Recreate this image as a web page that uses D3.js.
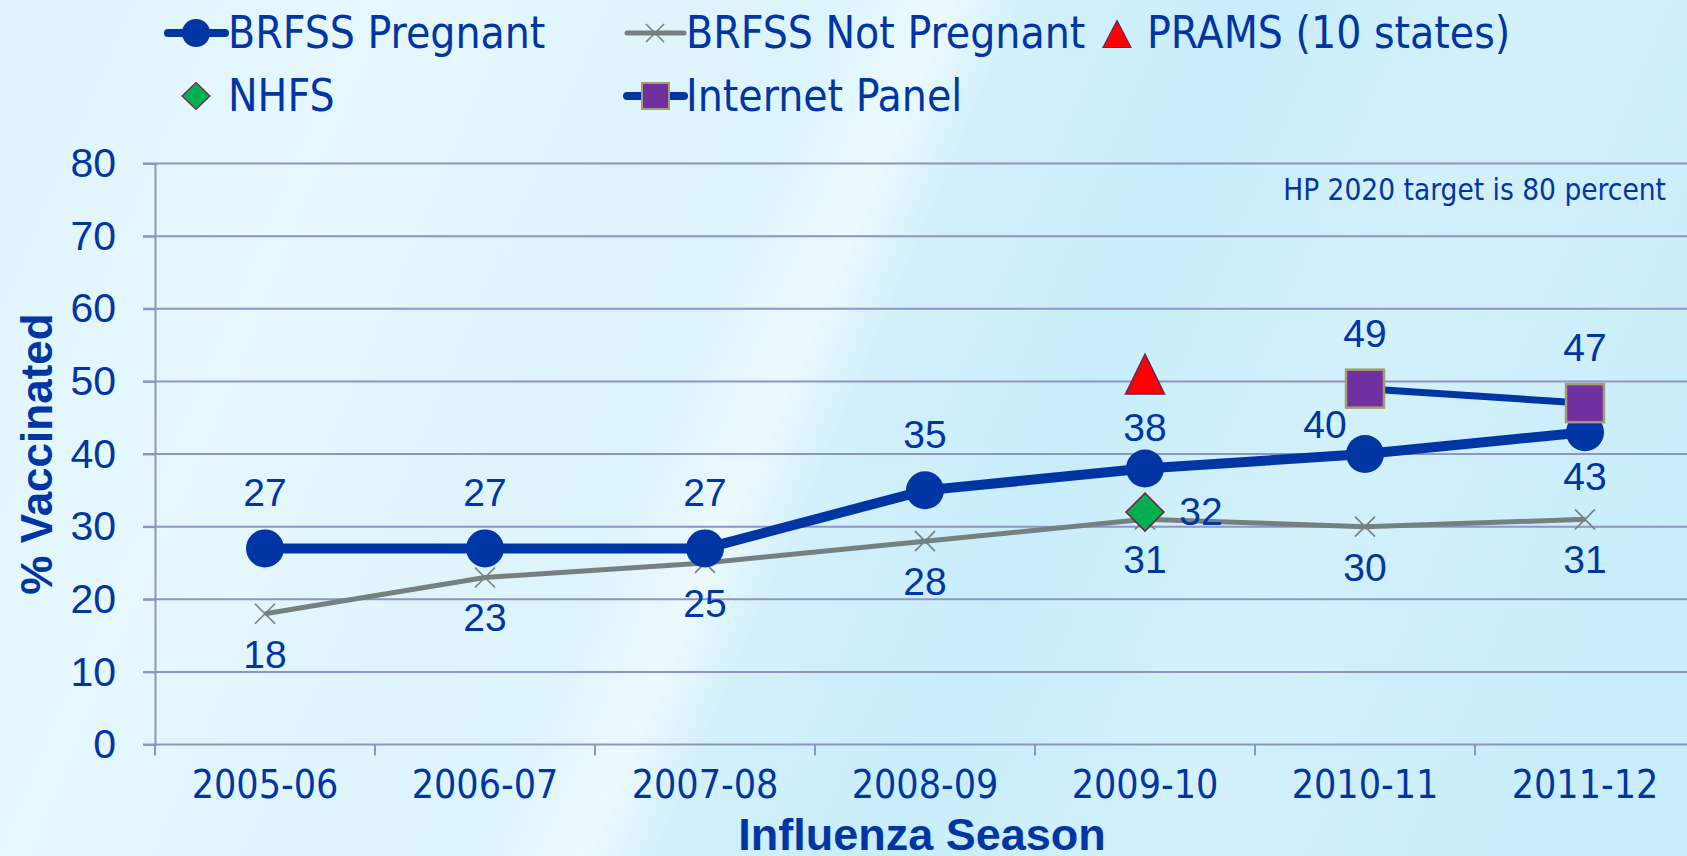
<!DOCTYPE html>
<meta charset="utf-8">
<style>
  body { margin: 0; background: #dff4fb; }
  .narrow { font-family: "Liberation Sans Narrow", "DejaVu Sans Condensed", "Liberation Sans", sans-serif; }
  .arial { font-family: "Liberation Sans", Arial, sans-serif; }
</style>
<body>
<svg width="1687" height="856"></svg>
<script src="https://d3js.org/d3.v7.min.js"></script>
<script>

// data
const seasons = ["2005-06", "2006-07", "2007-08", "2008-09", "2009-10", "2010-11", "2011-12"];
const brfssPregnant = [27, 27, 27, 35, 38, 40, 43];
const brfssNotPregnant = [18, 23, 25, 28, 31, 30, 31];
const pramsSeasons = ["2009-10"];
const pramsValues = [51];
const nhfsSeasons = ["2009-10"];
const nhfsValues = [32];
const panelSeasons = ["2010-11", "2011-12"];
const panelValues = [49, 47];
const yTicks = [0, 10, 20, 30, 40, 50, 60, 70, 80];

// where each pregnant label sits (excel had some moved by hand)
const pregnantLabelSpots = ["top", "top", "top", "top", "topNear", "left", "bottomFar"];

const blue = "#0036a3";
const gray = "#76807f";
const gridColor = "#8e94c6";

const svg = d3.select("svg"),
  width = +svg.attr("width"),
  height = +svg.attr("height");

// background: pale cyan with diagonal light streaks
const defs = svg.append("defs");
const bg = defs.append("linearGradient")
  .attr("id", "bg")
  .attr("gradientUnits", "userSpaceOnUse")
  .attr("x1", 0).attr("y1", 0).attr("x2", 1600).attr("y2", 684);
[[0, "#def4fb"], [0.2, "#e6f8fd"], [0.3, "#e1f6fc"], [0.44, "#dcf4fb"], [0.5, "#ecfafe"],
 [0.54, "#d4f1fb"], [0.66, "#c8edfa"], [0.8, "#d3f1fb"], [1, "#c9edfa"]].forEach(s => {
  bg.append("stop").attr("offset", s[0]).attr("stop-color", s[1]);
});
svg.append("rect").attr("width", width).attr("height", height).attr("fill", "url(#bg)");

// scales
const x = d3.scaleBand().domain(seasons).range([155, 1695]);
const cx = s => x(s) + x.bandwidth() / 2;
const y = d3.scaleLinear().domain([0, 80]).range([744.5, 163.5]);

// gridlines
svg.append("g")
  .selectAll("line")
  .data(yTicks)
  .join("line")
  .attr("x1", 143).attr("x2", 1695)
  .attr("y1", d => y(d)).attr("y2", d => y(d))
  .attr("stroke", gridColor)
  .attr("stroke-width", 2);

// y axis
const yAxis = svg.append("g")
  .attr("transform", "translate(155,0)")
  .call(d3.axisLeft(y).tickValues(yTicks).tickSize(12).tickPadding(27));
yAxis.select(".domain").attr("stroke", gridColor).attr("stroke-width", 2);
yAxis.selectAll(".tick line").attr("stroke", gridColor).attr("stroke-width", 2);
yAxis.selectAll(".tick text")
  .attr("class", "arial")
  .attr("fill", blue)
  .style("font-size", "41px");

// x axis: labels at centres, ticks at band edges
const xAxis = svg.append("g")
  .attr("transform", "translate(0," + y(0) + ")")
  .call(d3.axisBottom(x).tickSize(0).tickPadding(26));
xAxis.select(".domain").remove();
xAxis.selectAll(".tick text")
  .attr("class", "narrow")
  .attr("fill", blue)
  .style("font-size", "39px");
svg.append("g")
  .selectAll("line")
  .data(seasons)
  .join("line")
  .attr("x1", d => x(d)).attr("x2", d => x(d))
  .attr("y1", y(0)).attr("y2", y(0) + 11)
  .attr("stroke", gridColor)
  .attr("stroke-width", 2);

// axis titles
svg.append("text")
  .attr("class", "arial")
  .attr("x", 922).attr("y", 850)
  .attr("text-anchor", "middle")
  .attr("fill", blue)
  .style("font-size", "45px")
  .style("font-weight", "bold")
  .text("Influenza Season");

svg.append("text")
  .attr("class", "arial")
  .attr("transform", "translate(52,454) rotate(-90)")
  .attr("text-anchor", "middle")
  .attr("fill", blue)
  .style("font-size", "44px")
  .style("font-weight", "bold")
  .text("% Vaccinated");

svg.append("text")
  .attr("class", "narrow")
  .attr("x", 1666).attr("y", 200)
  .attr("text-anchor", "end")
  .attr("fill", blue)
  .style("font-size", "29.5px")
  .text("HP 2020 target is 80 percent");

const line = d3.line().x(d => cx(d[0])).y(d => y(d[1]));

// BRFSS not pregnant (gray, drawn first)
const notPreg = d3.zip(seasons, brfssNotPregnant);
svg.append("path")
  .datum(notPreg)
  .attr("d", line)
  .attr("fill", "none")
  .attr("stroke", gray)
  .attr("stroke-width", 5);

function xMark(sel, r) {
  sel.append("path")
    .attr("d", `M${-r},${-r}L${r},${r}M${-r},${r}L${r},${-r}`)
    .attr("stroke", gray)
    .attr("stroke-width", 1.6)
    .attr("fill", "none");
}
svg.append("g").selectAll("g")
  .data(notPreg)
  .join("g")
  .attr("transform", d => `translate(${cx(d[0])},${y(d[1])})`)
  .call(xMark, 10);

// BRFSS pregnant
const preg = d3.zip(seasons, brfssPregnant);
svg.append("path")
  .datum(preg)
  .attr("d", line)
  .attr("fill", "none")
  .attr("stroke", blue)
  .attr("stroke-width", 10);
svg.append("g").selectAll("circle")
  .data(preg)
  .join("circle")
  .attr("cx", d => cx(d[0]))
  .attr("cy", d => y(d[1]))
  .attr("r", 19)
  .attr("fill", blue);

// NHFS diamond
const nhfs = d3.zip(nhfsSeasons, nhfsValues);
svg.append("g").selectAll("path")
  .data(nhfs)
  .join("path")
  .attr("transform", d => `translate(${cx(d[0])},${y(d[1])})`)
  .attr("d", "M0,-19L19,0L0,19L-19,0Z")
  .attr("fill", "#00b050")
  .attr("stroke", "#7b1f45")
  .attr("stroke-width", 1.5);

// PRAMS triangle
const prams = d3.zip(pramsSeasons, pramsValues);
svg.append("g").selectAll("path")
  .data(prams)
  .join("path")
  .attr("transform", d => `translate(${cx(d[0])},${y(d[1])})`)
  .attr("d", "M0,-20L19.5,20L-19.5,20Z")
  .attr("fill", "#ff0000")
  .attr("stroke", "#5e2a5e")
  .attr("stroke-width", 1.5);

// Internet panel
const panel = d3.zip(panelSeasons, panelValues);
svg.append("path")
  .datum(panel)
  .attr("d", line)
  .attr("fill", "none")
  .attr("stroke", blue)
  .attr("stroke-width", 7);
svg.append("g").selectAll("rect")
  .data(panel)
  .join("rect")
  .attr("x", d => cx(d[0]) - 19)
  .attr("y", d => y(d[1]) - 19)
  .attr("width", 38).attr("height", 38)
  .attr("fill", "#7030a0")
  .attr("stroke", "#a39e72")
  .attr("stroke-width", 2.5);

// data labels
function addLabels(data, spots) {
  svg.append("g").selectAll("text")
    .data(data)
    .join("text")
    .attr("class", "arial")
    .attr("fill", blue)
    .style("font-size", "39px")
    .attr("text-anchor", "middle")
    .attr("x", (d, i) => cx(d[0]) + (spots[i] == "left" ? -40 : spots[i] == "right" ? 56 : 0))
    .attr("y", (d, i) => {
      const py = y(d[1]);
      if (spots[i] == "top") return py - 42;
      if (spots[i] == "topNear") return py - 28;
      if (spots[i] == "left") return py - 16;
      if (spots[i] == "right") return py + 13;
      if (spots[i] == "bottomFar") return py + 58;
      return py + 54;
    })
    .text(d => d[1]);
}
addLabels(preg, pregnantLabelSpots);
addLabels(notPreg, notPreg.map(() => "bottom"));
addLabels(panel, panel.map(() => "top"));
addLabels(nhfs, nhfs.map(() => "right"));

// legend
const legend = svg.append("g").attr("class", "legend");
function legendText(tx, ty, label) {
  legend.append("text")
    .attr("class", "narrow")
    .attr("x", tx).attr("y", ty)
    .attr("fill", blue)
    .style("font-size", "44px")
    .text(label);
}
function legendLine(x0, ly, color, w) {
  legend.append("line")
    .attr("x1", x0).attr("x2", x0 + 57)
    .attr("y1", ly).attr("y2", ly)
    .attr("stroke", color).attr("stroke-width", w).attr("stroke-linecap", "round");
}

// row 1
legendLine(168, 33, blue, 8);
legend.append("circle").attr("cx", 196).attr("cy", 33).attr("r", 14).attr("fill", blue);
legendText(228, 48, "BRFSS Pregnant");

legendLine(627, 33, gray, 5);
legend.append("g").attr("transform", "translate(655,33)").call(xMark, 9);
legendText(686, 48, "BRFSS Not Pregnant");

legend.append("path")
  .attr("transform", "translate(1117,34)")
  .attr("d", "M0,-13.5L14,13.5L-14,13.5Z")
  .attr("fill", "#ff0000").attr("stroke", "#5e2a5e").attr("stroke-width", 1.2);
legendText(1147, 48, "PRAMS (10 states)");

// row 2
legend.append("path")
  .attr("transform", "translate(196,96)")
  .attr("d", "M0,-13.5L14,0L0,13.5L-14,0Z")
  .attr("fill", "#00b050").attr("stroke", "#7b1f45").attr("stroke-width", 1.2);
legendText(228, 111, "NHFS");

legendLine(627, 96, blue, 8);
legend.append("rect").attr("x", 642).attr("y", 83).attr("width", 27).attr("height", 26)
  .attr("fill", "#7030a0").attr("stroke", "#a39e72").attr("stroke-width", 2);
legendText(686, 111, "Internet Panel");

</script>
</body>
